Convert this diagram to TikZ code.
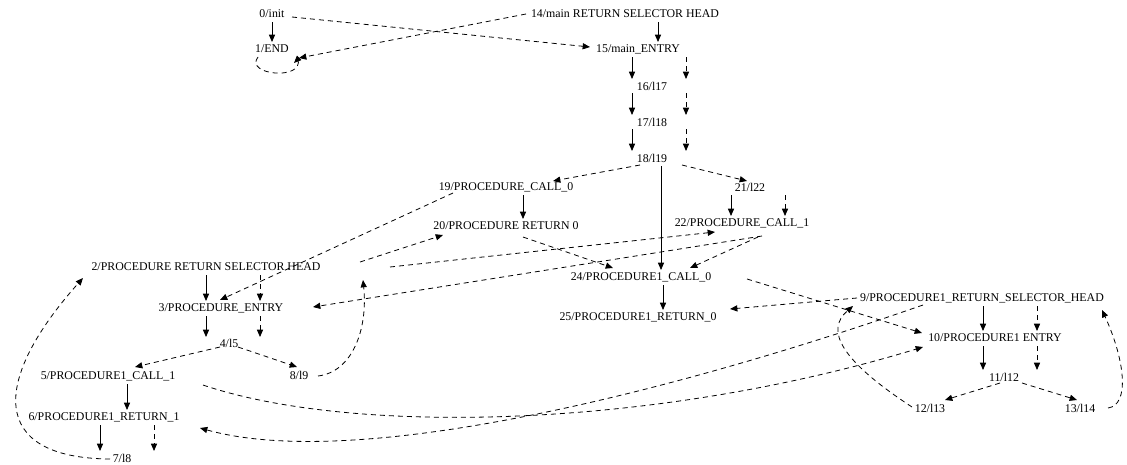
\documentclass[tikz,border=0pt]{standalone}
\usepackage{fontspec}
\setmainfont{Liberation Serif}
\usetikzlibrary{arrows.meta}
\begin{document}
\begin{tikzpicture}[x=0.75pt,y=-0.75pt,
  lbl/.style={inner sep=0pt, font=\fontsize{8.9pt}{10pt}\selectfont},
  sol/.style={draw, line width=0.6pt, -{Triangle[length=5.5pt,width=4.6pt]}},
  dsh/.style={sol, dash pattern=on 3.75pt off 3pt}]
\useasboundingbox (0,0) rectangle (1127,464);
% nodes
\node[lbl] (n0) at (272,14) {0/init};
\node[lbl] (n1) at (272,49) {1/END};
\node[lbl] (n14) at (625,14) {14/main RETURN SELECTOR HEAD};
\node[lbl] (n15) at (638,49) {15/main\_ENTRY};
\node[lbl] (n16) at (652,86) {16/l17};
\node[lbl] (n17) at (652,122) {17/l18};
\node[lbl] (n18) at (652,158) {18/l19};
\node[lbl] (n19) at (506,187) {19/PROCEDURE\_CALL\_0};
\node[lbl] (n20) at (506,226) {20/PROCEDURE RETURN 0};
\node[lbl] (n21) at (750,187) {21/l22};
\node[lbl] (n22) at (742,223) {22/PROCEDURE\_CALL\_1};
\node[inner sep=0pt] (n23) at (372,270) {};
\node[lbl] (n24) at (641,277) {24/PROCEDURE1\_CALL\_0};
\node[lbl] (n25) at (638,317) {25/PROCEDURE1\_RETURN\_0};
\node[lbl] (n2) at (206,267) {2/PROCEDURE RETURN SELECTOR HEAD};
\node[lbl] (n3) at (221,308) {3/PROCEDURE\_ENTRY};
\node[lbl] (n4) at (229,343) {4/l5};
\node[lbl] (n5) at (108,376) {5/PROCEDURE1\_CALL\_1};
\node[lbl] (n6) at (104,417) {6/PROCEDURE1\_RETURN\_1};
\node[lbl] (n7) at (122,458) {7/l8};
\node[lbl] (n8) at (299,375) {8/l9};
\node[lbl] (n9) at (982,298) {9/PROCEDURE1\_RETURN\_SELECTOR\_HEAD};
\node[lbl] (n10) at (995,338) {10/PROCEDURE1 ENTRY};
\node[lbl] (n11) at (1004,377) {11/l12};
\node[lbl] (n12) at (930,408) {12/l13};
\node[lbl] (n13) at (1080,408) {13/l14};
% solid edges and their dashed twins
\draw[sol] ([shift={(0,8)}]n0.center) -- ([shift={(0,-7)}]n1.center);
\draw[sol] ([shift={(33,8)}]n14.center) -- ([shift={(20,-7)}]n15.center);
\draw[sol] ([shift={(-6,8)}]n15.center) -- ([shift={(-20,-7)}]n16.center);
\draw[dsh] ([shift={(48,8)}]n15.center) -- ([shift={(34,-7)}]n16.center);
\draw[sol] ([shift={(-20,7)}]n16.center) -- ([shift={(-20,-7)}]n17.center);
\draw[dsh] ([shift={(34,7)}]n16.center) -- ([shift={(34,-7)}]n17.center);
\draw[sol] ([shift={(-20,7)}]n17.center) -- ([shift={(-20,-7)}]n18.center);
\draw[dsh] ([shift={(34,7)}]n17.center) -- ([shift={(34,-7)}]n18.center);
\draw[sol] ([shift={(9,8)}]n18.center) -- ([shift={(20,-7)}]n24.center);
\draw[sol] ([shift={(17,8)}]n19.center) -- ([shift={(17,-7)}]n20.center);
\draw[sol] ([shift={(-19,8)}]n21.center) -- ([shift={(-11,-7)}]n22.center);
\draw[dsh] ([shift={(35,8)}]n21.center) -- ([shift={(43,-7)}]n22.center);
\draw[sol] ([shift={(22,8)}]n24.center) -- ([shift={(25,-7)}]n25.center);
\draw[sol] ([shift={(0,8)}]n2.center) -- ([shift={(-15,-7)}]n3.center);
\draw[dsh] ([shift={(54,8)}]n2.center) -- ([shift={(39,-7)}]n3.center);
\draw[sol] ([shift={(-15,8)}]n3.center) -- ([shift={(-23,-6)}]n4.center);
\draw[dsh] ([shift={(39,8)}]n3.center) -- ([shift={(31,-6)}]n4.center);
\draw[sol] ([shift={(19,8)}]n5.center) -- ([shift={(23,-7)}]n6.center);
\draw[sol] ([shift={(-4,8)}]n6.center) -- ([shift={(-22,-7)}]n7.center);
\draw[dsh] ([shift={(50,8)}]n6.center) -- ([shift={(32,-7)}]n7.center);
\draw[sol] ([shift={(1,8)}]n9.center) -- ([shift={(-12,-7)}]n10.center);
\draw[dsh] ([shift={(55,8)}]n9.center) -- ([shift={(42,-7)}]n10.center);
\draw[sol] ([shift={(-12,8)}]n10.center) -- ([shift={(-21,-7)}]n11.center);
\draw[dsh] ([shift={(42,8)}]n10.center) -- ([shift={(33,-7)}]n11.center);
% dashed edges
\draw[dsh] ([shift={(20,3)}]n0.center) -- ([shift={(-48,-2)}]n15.center);
\draw[dsh] ([shift={(-99,0)}]n14.center) -- ([shift={(27,9)}]n1.center);
\draw[dsh] ([shift={(-14,8)}]n1.center) .. controls +(-14,18) and +(6,22) .. ([shift={(26,10)}]n1.center) -- ([shift={(22,14)}]n1.center);
\draw[dsh] ([shift={(-12,7)}]n18.center) -- ([shift={(47,-6)}]n19.center);
\draw[dsh] ([shift={(30,7)}]n18.center) -- ([shift={(-3,-6)}]n21.center);
\draw[dsh] ([shift={(-53,6)}]n19.center) -- ([shift={(-1,-8)}]n3.center);
\draw[dsh] ([shift={(17,11)}]n20.center) -- ([shift={(-28,-9)}]n24.center);
\draw[dsh] ([shift={(16,14)}]n22.center) -- ([shift={(49,-9)}]n24.center);
\draw[dsh] ([shift={(20,13)}]n22.center) -- ([shift={(92,-1)}]n3.center);
\draw[dsh] ([shift={(-12,-8)}]n23.center) -- ([shift={(-63,9)}]n20.center);
\draw[dsh] ([shift={(18,-3)}]n23.center) -- ([shift={(-27,9)}]n22.center);
\draw[dsh] ([shift={(19,1)}]n8.center) .. controls +(34,-4) and +(5,50) .. ([shift={(-9,10)}]n23.center);
\draw[dsh] ([shift={(-12,1)}]n7.center) .. controls +(-122,-1) and +(-91,102) .. ([shift={(-123,11)}]n2.center);
\draw[dsh] ([shift={(-9,4)}]n4.center) -- ([shift={(27,-9)}]n5.center);
\draw[dsh] ([shift={(9,4)}]n4.center) -- ([shift={(-2,-8)}]n8.center);
\draw[dsh] ([shift={(95,9)}]n5.center) .. controls +(147,50) and +(-273,83) .. ([shift={(-72,9)}]n10.center);
\draw[dsh] ([shift={(-59,7)}]n9.center) .. controls +(-273,95) and +(150,42) .. ([shift={(96,11)}]n6.center);
\draw[dsh] ([shift={(106,2)}]n24.center) -- ([shift={(-73,-5)}]n10.center);
\draw[dsh] ([shift={(-125,0)}]n9.center) -- ([shift={(92,-8)}]n25.center);
\draw[dsh] ([shift={(-4,6)}]n11.center) -- ([shift={(15,-8)}]n12.center);
\draw[dsh] ([shift={(18,6)}]n11.center) -- ([shift={(-3,-8)}]n13.center);
\draw[dsh] ([shift={(-18,-1)}]n12.center) .. controls +(-72,-47) and +(-28,24) .. ([shift={(-129,8)}]n9.center);
\draw[dsh] ([shift={(28,0)}]n13.center) .. controls +(22,-3) and +(23,50) .. ([shift={(120,12)}]n9.center);
\end{tikzpicture}
\end{document}
